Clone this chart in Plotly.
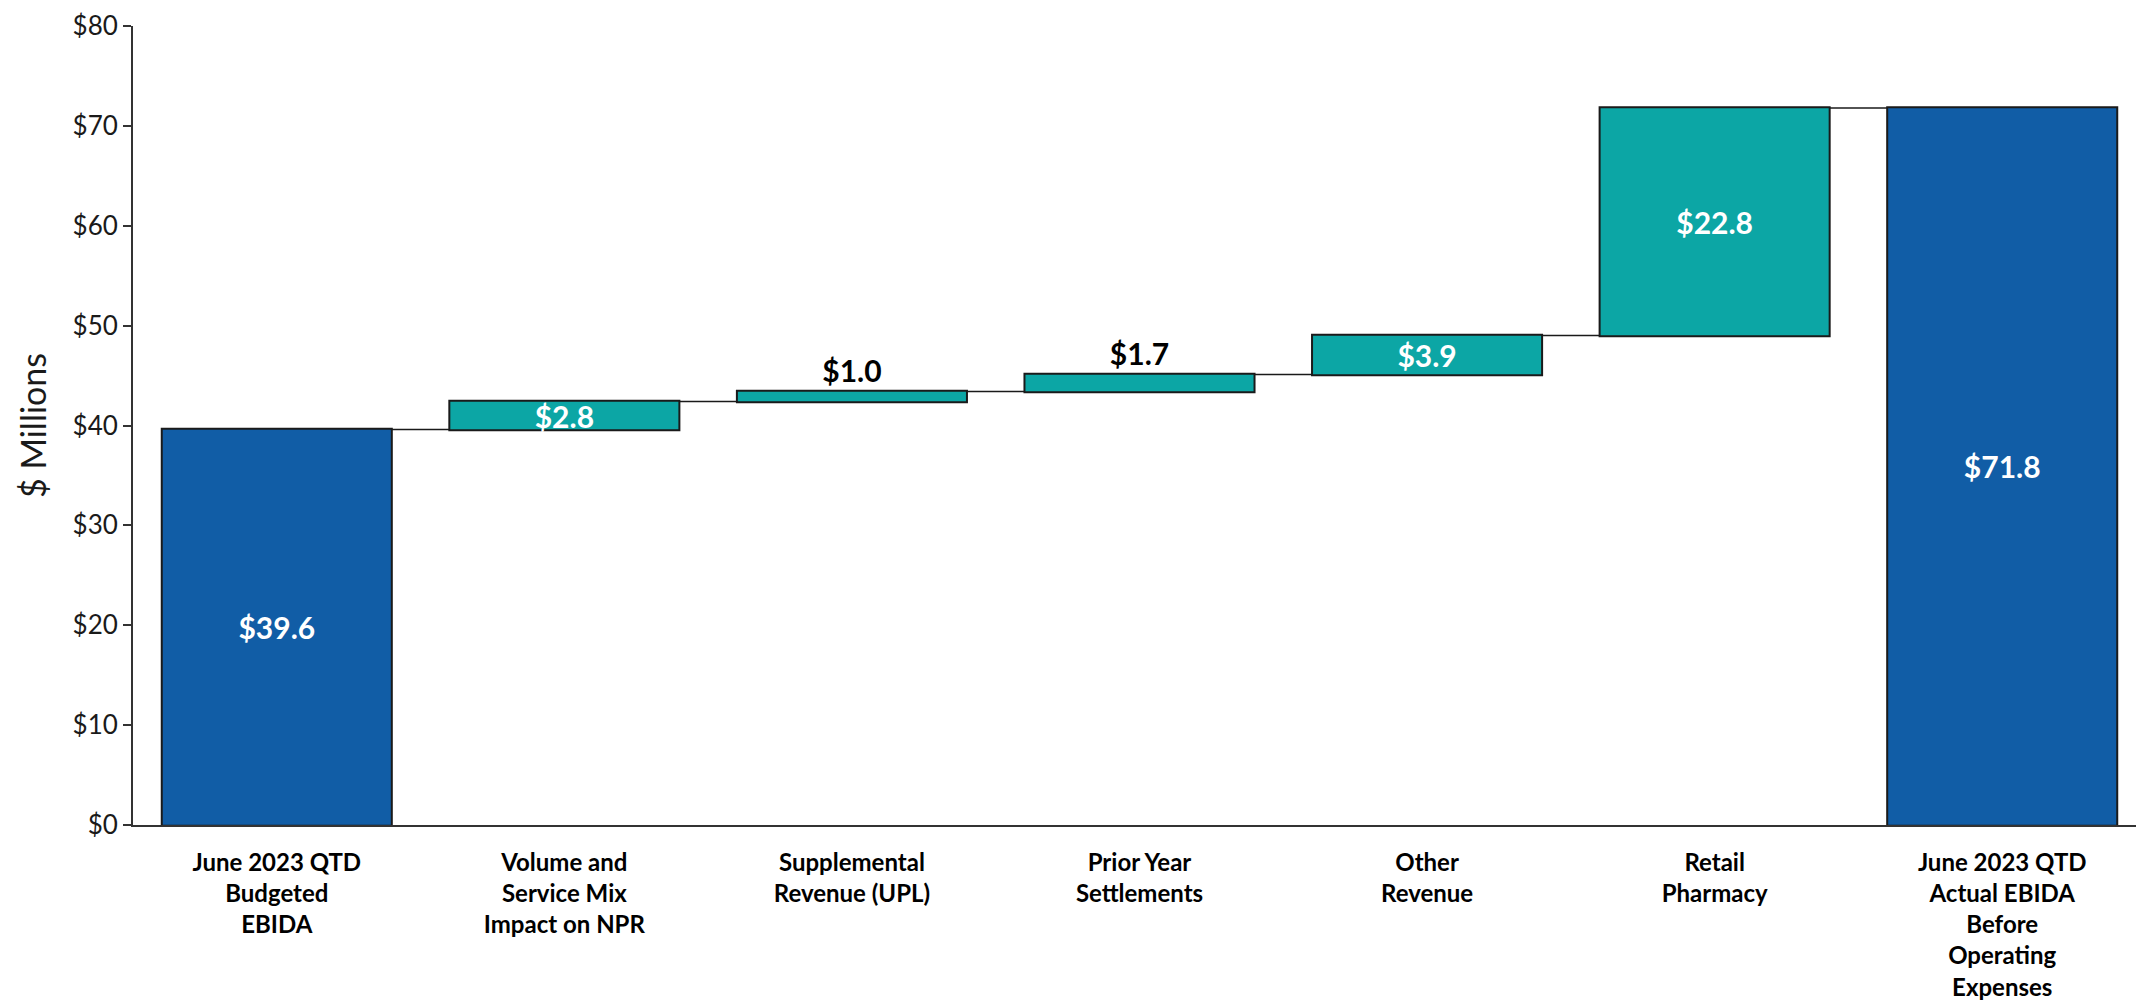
import plotly.graph_objects as go

# ── Data ──────────────────────────────────────────────────────────────────────
categories = [
    "June 2023 QTD<br>Budgeted<br>EBIDA",
    "Volume and<br>Service Mix<br>Impact on NPR",
    "Supplemental<br>Revenue (UPL)",
    "Prior Year<br>Settlements",
    "Other<br>Revenue",
    "Retail<br>Pharmacy",
    "June 2023 QTD<br>Actual EBIDA<br>Before<br>Operating<br>Expenses",
]
measures = ["absolute", "relative", "relative", "relative", "relative", "relative", "total"]
values = [39.6, 2.8, 1.0, 1.7, 3.9, 22.8, 71.8]
y_ticks = [0, 10, 20, 30, 40, 50, 60, 70, 80]

TEAL = "#0CA6A5"
BLUE = "#115DA6"
EDGE = "#1a1a1a"
FONT = "Lato, sans-serif"

labels = [f"${v:.1f}" for v in values]
# small steps get their label above the bar
positions = ["outside" if v < 2 else "inside" for v in values]

fig = go.Figure(go.Waterfall(
    x=categories,
    y=[v if m != "total" else 0 for v, m in zip(values, measures)],
    measure=measures,
    text=labels,
    textposition=positions,
    textangle=0,
    constraintext="none",
    insidetextanchor="middle",
    insidetextfont=dict(color="white", size=30, family=FONT, weight="bold"),
    outsidetextfont=dict(color="black", size=30, family=FONT, weight="bold"),
    increasing=dict(marker=dict(color=TEAL, line=dict(color=EDGE, width=2))),
    decreasing=dict(marker=dict(color=TEAL, line=dict(color=EDGE, width=2))),
    totals=dict(marker=dict(color=BLUE, line=dict(color=EDGE, width=2))),
    connector=dict(line=dict(color=EDGE, width=1.5), mode="between"),
    hoverinfo="skip",
    showlegend=False,
))

fig.update_layout(
    width=2144,
    height=1006,
    paper_bgcolor="white",
    plot_bgcolor="white",
    margin=dict(l=125, r=6, t=18, b=189),
    bargap=0.2,
    font=dict(family=FONT, color=EDGE),
    xaxis=dict(
        automargin=False,
        showline=True,
        linecolor="#333333",
        linewidth=2,
        showgrid=False,
        ticks="",
        tickfont=dict(size=24, family=FONT, color="black", weight="bold"),
        ticklabelstandoff=15,
    ),
    yaxis=dict(
        automargin=False,
        range=[0, 80],
        tickvals=y_ticks,
        ticktext=[f"${t}" for t in y_ticks],
        showline=True,
        linecolor="#333333",
        linewidth=2,
        showgrid=False,
        zeroline=False,
        ticks="outside",
        ticklen=8,
        tickwidth=2,
        tickcolor="#333333",
        tickfont=dict(size=26, family=FONT, color=EDGE),
        title=dict(
            text="$ Millions",
            font=dict(size=34, family=FONT, color=EDGE),
            standoff=16,
        ),
    ),
)

fig.write_html("out.html")
